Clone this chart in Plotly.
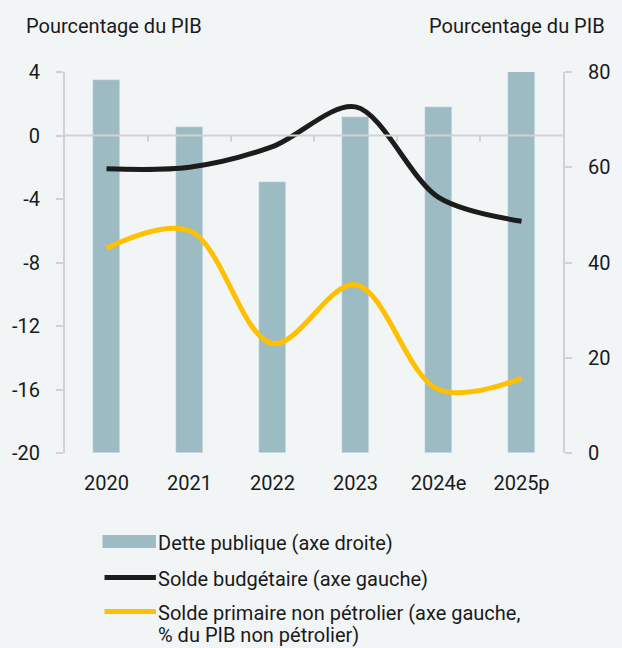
import plotly.graph_objects as go

years = ["2020", "2021", "2022", "2023", "2024e", "2025p"]
dette = [78.3, 68.5, 56.9, 70.6, 72.6, 80.2]
solde_budg = [-2.1, -2.0, -0.7, 1.8, -3.9, -5.4]
solde_prim = [-7.1, -6.0, -13.1, -9.4, -16.0, -15.3]
left_ticks = [4, 0, -4, -8, -12, -16, -20]
left_ticktext = ["4", "0", "-4", "-8", "-12", "-16", "-20"]
right_ticks = [0, 20, 40, 60, 80]

BG = "#F2F5F6"
BAR = "#9DBBC3"
BLACK = "#1C1C1C"
YELLOW = "#FFC000"
AXIS = "#D2D2D2"
FONT = "Roboto"
TXT = "#1A1A1A"
FS = 20

fig = go.Figure()
# bars on the base axis (right side), lines on the overlaying axis (left side) so lines are drawn on top
fig.add_trace(go.Bar(x=years, y=dette, yaxis="y", marker_color=BAR, width=0.32,
                     name="Dette publique (axe droite)", showlegend=False))
fig.add_trace(go.Scatter(x=years, y=solde_budg, mode="lines", yaxis="y2",
                         line=dict(color=BLACK, width=5, shape="spline", smoothing=0.9),
                         name="Solde budgétaire (axe gauche)", showlegend=False))
fig.add_trace(go.Scatter(x=years, y=solde_prim, mode="lines", yaxis="y2",
                         line=dict(color=YELLOW, width=5, shape="spline", smoothing=1.0),
                         name="Solde primaire non pétrolier", showlegend=False))

W, H = 622, 648
ml, mr, mt, mb = 60, 58, 72, 195
pw, ph = W - ml - mr, H - mt - mb

def px2paper_x(px):
    return (px - ml) / pw

def px2paper_y(py):
    return (H - mb - py) / ph

shapes = []
# zero line of the left axis
shapes.append(dict(type="line", xref="paper", x0=0, x1=1, yref="y2", y0=0, y1=0,
                   line=dict(color=AXIS, width=2), layer="above"))
# category ticks on zero line
for i in range(len(years) - 1):
    shapes.append(dict(type="line", xref="x", x0=i + 0.5, x1=i + 0.5, yref="y2",
                       ysizemode="pixel", yanchor=0, y0=0, y1=-6,
                       line=dict(color=AXIS, width=2), layer="above"))

annotations = []
legend_items = [
    ("rect", BAR, 541.5, ["Dette publique (axe droite)"]),
    ("line", BLACK, 577.5, ["Solde budgétaire (axe gauche)"]),
    ("line", YELLOW, 611.5, ["Solde primaire non pétrolier (axe gauche,", "% du PIB non pétrolier)"]),
]
for kind, col, yc, labels in legend_items:
    if kind == "rect":
        shapes.append(dict(type="rect", xref="paper", yref="paper",
                           x0=px2paper_x(98), x1=px2paper_x(152),
                           y0=px2paper_y(yc + 6.5), y1=px2paper_y(yc - 6.5),
                           fillcolor=col, line=dict(width=0)))
    else:
        shapes.append(dict(type="line", xref="paper", yref="paper",
                           x0=px2paper_x(100), x1=px2paper_x(152),
                           y0=px2paper_y(yc), y1=px2paper_y(yc),
                           line=dict(color=col, width=5)))
    for k, lab in enumerate(labels):
        annotations.append(dict(xref="paper", yref="paper", x=px2paper_x(152),
                                y=px2paper_y(yc + 1 + 22 * k), xanchor="left", yanchor="middle",
                                text=lab, showarrow=False, align="left",
                                font=dict(family=FONT, size=FS, color=TXT)))

annotations.append(dict(xref="paper", yref="paper", x=px2paper_x(19), y=px2paper_y(26),
                        xanchor="left", yanchor="middle", text="Pourcentage du PIB",
                        showarrow=False, font=dict(family=FONT, size=FS, color=TXT)))
annotations.append(dict(xref="paper", yref="paper", x=px2paper_x(609), y=px2paper_y(26),
                        xanchor="right", yanchor="middle", text="Pourcentage du PIB",
                        showarrow=False, font=dict(family=FONT, size=FS, color=TXT)))

axis_common = dict(showgrid=False, zeroline=False, showline=True, linecolor=AXIS, linewidth=2,
                   ticks="outside", ticklen=7, tickwidth=2, tickcolor=AXIS,
                   ticklabelstandoff=12, tickfont=dict(size=FS))

fig.update_layout(
    width=W, height=H,
    margin=dict(l=ml, r=mr, t=mt, b=mb),
    paper_bgcolor=BG, plot_bgcolor=BG,
    font=dict(family=FONT, size=FS, color=TXT),
    showlegend=False,
    bargap=0,
    shapes=shapes,
    annotations=annotations,
    xaxis=dict(type="category", showgrid=False, zeroline=False, showline=False,
               ticks="", ticklabelstandoff=16, tickfont=dict(size=FS)),
    yaxis=dict(range=[0, 80], tickvals=right_ticks, side="right", **axis_common),
    yaxis2=dict(range=[-20, 4], tickvals=left_ticks, ticktext=left_ticktext,
                overlaying="y", side="left", **axis_common),
)

fig.write_html("out.html", config={"displayModeBar": False})
with open("out.html", "r", encoding="utf-8") as f:
    html = f.read()
html = html.replace("<head>", "<head><style>html,body{margin:0;padding:0;overflow:hidden;}</style>", 1)
with open("out.html", "w", encoding="utf-8") as f:
    f.write(html)
